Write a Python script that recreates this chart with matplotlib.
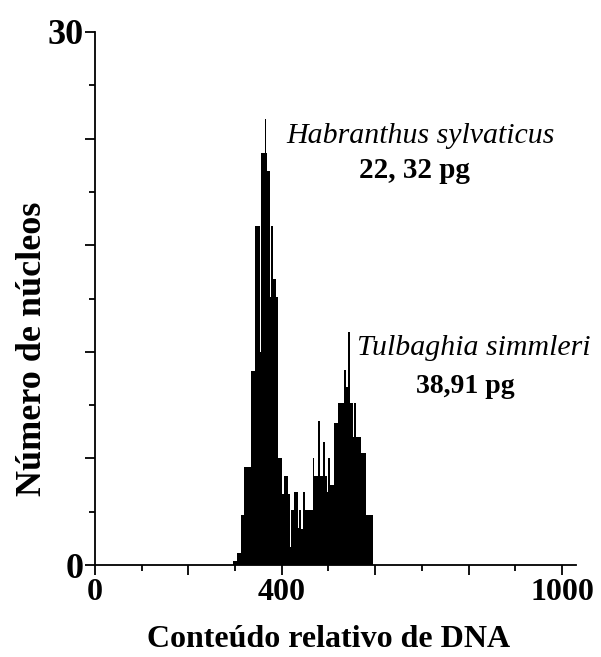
import numpy as np
import matplotlib
matplotlib.use('Agg')
import matplotlib.pyplot as plt

plt.rcParams['font.family'] = ['Liberation Serif', 'DejaVu Serif']

# histogram: (from, to, height) segments of the envelope
segments = [
    (296, 304, 0.2), (304, 312, 0.7), (312, 320, 2.8), (320, 334, 5.5),
    (334, 342, 10.9), (342, 354, 19.1), (354, 356, 12.0), (356, 364, 23.2),
    (364, 366, 25.1), (366, 368, 23.2), (368, 374, 22.2), (374, 376, 15.1),
    (376, 382, 19.1), (382, 388, 16.1), (388, 392, 15.1), (392, 400, 6.0),
    (400, 404, 4.0), (404, 408, 5.0), (408, 410, 4.0), (410, 414, 5.0),
    (414, 418, 4.0), (418, 420, 1.0), (420, 426, 3.1), (426, 434, 4.1),
    (434, 436, 2.1), (436, 442, 3.1), (442, 446, 2.0), (446, 450, 4.1),
    (450, 466, 3.1), (466, 470, 6.0), (470, 478, 5.0), (478, 482, 8.1),
    (482, 488, 5.0), (488, 492, 6.9), (492, 496, 5.0), (496, 500, 4.1),
    (500, 504, 6.0), (504, 512, 4.5), (512, 520, 8.0), (520, 534, 9.1),
    (534, 538, 11.0), (538, 542, 10.0), (542, 546, 13.1), (546, 552, 9.1),
    (552, 554, 7.2), (554, 558, 9.1), (558, 570, 7.2), (570, 580, 6.3),
    (580, 596, 2.8),
]

edges = [segments[0][0]]
counts = []
for a, b, h in segments:
    edges.append(b)
    counts.append(h)

species = ['Habranthus sylvaticus', 'Tulbaghia simmleri']
contents = ['22, 32 pg', '38,91 pg']

fig = plt.figure(figsize=(6.01, 6.57), dpi=100)
ax = fig.add_axes([95 / 601, 1 - 565 / 657, (576 - 95) / 601, (565 - 32) / 657])

ax.stairs(counts, edges, fill=True, color='black', linewidth=0)

ax.set_xlim(0, 1030)
ax.set_ylim(0, 30)
ax.spines['top'].set_visible(False)
ax.spines['right'].set_visible(False)
for s in ['left', 'bottom']:
    ax.spines[s].set_linewidth(1.3)

# long ticks every 200 / 6, short ones in between; only some are labelled
ax.set_xticks(np.arange(0, 1001, 200), labels=['0', '', '400', '', '', '1000'])
ax.set_xticks(np.arange(100, 1000, 200), minor=True)
ax.set_yticks(np.arange(0, 31, 6), labels=['0', '', '', '', '', '30'])
ax.set_yticks(np.arange(3, 30, 6), minor=True)
ax.tick_params(which='major', length=7.5, width=1.3, pad=2)
ax.tick_params(axis='x', which='major', labelsize=23)
ax.tick_params(axis='y', which='major', labelsize=26, pad=1)
ax.tick_params(which='minor', length=4.5, width=1.3)
for lab in ax.get_xticklabels() + ax.get_yticklabels():
    lab.set_fontweight('bold')

ax.set_xlabel('Conteúdo relativo de DNA', fontsize=23, fontweight='bold')
ax.xaxis.set_label_coords(0.486, -0.112)
ax.set_ylabel('Número de núcleos', fontsize=26, fontweight='bold')
ax.yaxis.set_label_coords(-0.095, 0.405)

ax.text(696, 23.75, species[0], fontsize=21.5, style='italic', ha='center', va='baseline')
ax.text(683, 21.8, contents[0], fontsize=21, fontweight='bold', ha='center', va='baseline')
ax.text(810, 11.8, species[1], fontsize=21.5, style='italic', ha='center', va='baseline')
ax.text(794, 9.7, contents[1], fontsize=20, fontweight='bold', ha='center', va='baseline')

fig.savefig('out.png', dpi=100)
